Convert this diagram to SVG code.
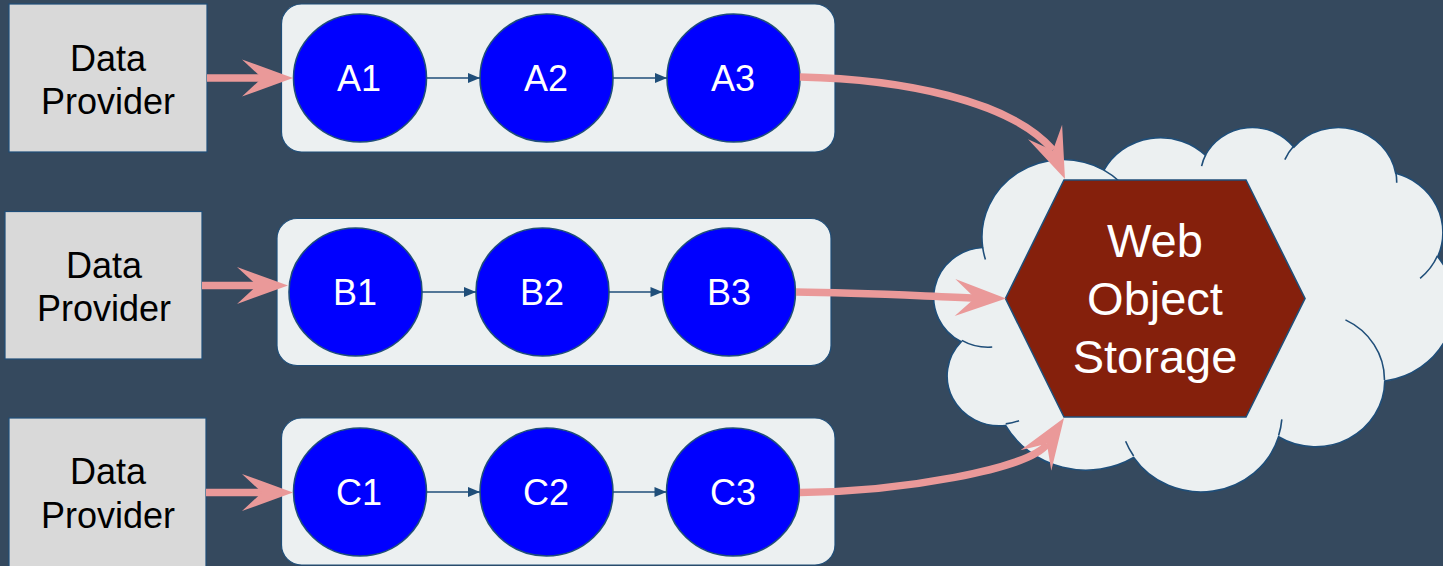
<svg xmlns="http://www.w3.org/2000/svg" xmlns:xlink="http://www.w3.org/1999/xlink" width="1443" height="566" viewBox="0 0 1443 566">
  <style>
    .provider { fill: #D9D9D9; stroke: #1F4E79; stroke-width: 1.2; }
    .provider-text { font-family: "Liberation Sans", Arial, sans-serif; font-size: 36px; fill: #000000; text-anchor: middle; }
    .lane { fill: #ECF0F1; stroke: #1F4E79; stroke-width: 1.2; }
    .step { fill: #0000FF; stroke: #1F4E79; stroke-width: 1.6; }
    .step-text { font-family: "Liberation Sans", Arial, sans-serif; font-size: 36px; fill: #FFFFFF; text-anchor: middle; }
    .cloud { fill: #ECF0F1; stroke: #1F4E79; stroke-width: 1.6; vector-effect: non-scaling-stroke; }
    .cloud-crease { fill: none; stroke: #1F4E79; stroke-width: 1.6; vector-effect: non-scaling-stroke; }
    .store { fill: #85200C; stroke: #1F4E79; stroke-width: 1.6; }
    .store-text { font-family: "Liberation Sans", Arial, sans-serif; font-size: 47px; fill: #FFFFFF; text-anchor: middle; }
    .flow { fill: none; stroke: #EA9999; stroke-width: 7.5; }
    .hop { fill: none; stroke: #1F4E79; stroke-width: 1.6; marker-end: url(#hop-head); }
  </style>
  <defs>
    <marker id="hop-head" markerUnits="userSpaceOnUse" markerWidth="14" markerHeight="12" viewBox="-13 -6 14 12" refX="0" refY="0" orient="auto" overflow="visible">
      <path d="M0,0 L-12,-5 L-12,5 Z" fill="#1F4E79"/>
    </marker>
    <path id="flow-head" d="M0,0 L-51,-18.5 L-31,0 L-51,18.5 Z" fill="#EA9999"/>
  </defs>

  <!-- background -->
  <rect x="0" y="0" width="1443" height="566" fill="#35495E"/>

  <!-- data providers -->
  <g id="provider-a">
    <rect class="provider" x="9" y="4" width="198" height="148"/>
    <text class="provider-text" x="108" y="70.5">Data</text>
    <text class="provider-text" x="108" y="113.5">Provider</text>
  </g>
  <g id="provider-b">
    <rect class="provider" x="5" y="211.5" width="197" height="147.5"/>
    <text class="provider-text" x="104" y="277.5">Data</text>
    <text class="provider-text" x="104" y="320.5">Provider</text>
  </g>
  <g id="provider-c">
    <rect class="provider" x="9" y="418" width="197" height="150"/>
    <text class="provider-text" x="108" y="484">Data</text>
    <text class="provider-text" x="108" y="527.5">Provider</text>
  </g>

  <!-- pipeline lanes -->
  <g id="lane-a"><rect class="lane" x="281.5" y="4" width="553.5" height="148" rx="20" ry="20"/></g>
  <g id="lane-b"><rect class="lane" x="277" y="218.5" width="554" height="147" rx="20" ry="20"/></g>
  <g id="lane-c"><rect class="lane" x="281.5" y="418" width="553.5" height="147" rx="20" ry="20"/></g>

  <!-- pipeline steps -->
  <g id="a1"><ellipse class="step" cx="360" cy="78" rx="66.5" ry="64"/><text class="step-text" x="359" y="91">A1</text></g>
  <g id="a2"><ellipse class="step" cx="546.5" cy="78" rx="66.5" ry="64"/><text class="step-text" x="546" y="91">A2</text></g>
  <g id="a3"><ellipse class="step" cx="733.5" cy="78" rx="66.5" ry="64"/><text class="step-text" x="733" y="91">A3</text></g>

  <g id="b1"><ellipse class="step" cx="355.5" cy="292" rx="66.5" ry="64"/><text class="step-text" x="355" y="305">B1</text></g>
  <g id="b2"><ellipse class="step" cx="542.5" cy="292" rx="66.5" ry="64"/><text class="step-text" x="542" y="305">B2</text></g>
  <g id="b3"><ellipse class="step" cx="729" cy="292" rx="66.5" ry="64"/><text class="step-text" x="729" y="305">B3</text></g>

  <g id="c1"><ellipse class="step" cx="360" cy="492" rx="66.5" ry="64"/><text class="step-text" x="359" y="505">C1</text></g>
  <g id="c2"><ellipse class="step" cx="546.5" cy="492" rx="66.5" ry="64"/><text class="step-text" x="546" y="505">C2</text></g>
  <g id="c3"><ellipse class="step" cx="733" cy="492" rx="66.5" ry="64"/><text class="step-text" x="733" y="505">C3</text></g>

  <!-- storage: cloud with hexagon -->
  <g id="storage">
    <g transform="translate(935.9 126.3) scale(0.012 0.008434)">
      <path class="cloud" d="M3900,14370 A6753,9190 0 0 1 14004.7,5202 A5333,7267 0 0 1 22455.4,3432.4 A4365,5945 0 0 1 29832.3,2480.7 A4857,6595 0 0 1 38317.9,5575.4 A5333,7273 0 0 1 41818.4,15459.5 A6775,9220 0 0 1 37403.9,30202.1 A5785,7867 0 0 1 28555.5,36812.3 A6752,9215 0 0 1 16480.9,39265.8 A7720,10543 0 0 1 5804.4,35469.3 A4360,5918 0 0 1 2112.7,25548 A4345,5945 0 0 1 3900,14370 Z"/>
      <path class="cloud-crease" d="M4693,26177 A4345,5945 0 0 1 2159.3,25379.6 M6928,34899 A4360,5918 0 0 1 5819.5,35280.5 M16478,39090 A6752,9215 0 0 1 15809.1,37348 M28827,34751 A6752,9215 0 0 1 28560.6,36659.8 M34129,22954 A5785,7867 0 0 1 37380.6,30089.8 M41798,15354 A5333,7273 0 0 1 40350,18029.7 M38324,5426 A4857,6595 0 0 1 38400.4,6690.2 M29078,3952 A4857,6595 0 0 1 29819.5,2340 M22141,4720 A4365,5945 0 0 1 22500.2,3330.1 M14000,5192 A6753,9190 0 0 1 15300.2,6540.7 M4127,15789 A6753,9190 0 0 1 3900.2,14369.6"/>
    </g>
    <polygon class="store" points="1064,180 1246,180 1305,298.5 1246,417 1064,417 1005.5,298.5"/>
    <text class="store-text" x="1155" y="257">Web</text>
    <text class="store-text" x="1155" y="315">Object</text>
    <text class="store-text" x="1155" y="373">Storage</text>
  </g>

  <!-- connectors -->
  <g id="connectors">
    <line class="hop" x1="426.5" y1="78" x2="480" y2="78"/>
    <line class="hop" x1="613" y1="78" x2="667" y2="78"/>
    <line class="hop" x1="422" y1="292" x2="476" y2="292"/>
    <line class="hop" x1="609" y1="292" x2="662.5" y2="292"/>
    <line class="hop" x1="426.5" y1="492" x2="480" y2="492"/>
    <line class="hop" x1="613" y1="492" x2="666.5" y2="492"/>

    <line class="flow" x1="207" y1="78" x2="263" y2="78"/>
    <use xlink:href="#flow-head" href="#flow-head" transform="translate(293 78)"/>
    <line class="flow" x1="202" y1="285.5" x2="258" y2="285.5"/>
    <use xlink:href="#flow-head" href="#flow-head" transform="translate(288 285.5)"/>
    <line class="flow" x1="206" y1="492.5" x2="263" y2="492.5"/>
    <use xlink:href="#flow-head" href="#flow-head" transform="translate(293 492.5)"/>

    <path class="flow" d="M800,77 C900,79 1010,100 1053,150"/>
    <use xlink:href="#flow-head" href="#flow-head" transform="translate(1065 179) rotate(67)"/>
    <path class="flow" d="M796,292 C860,292.5 920,296 976,298"/>
    <use xlink:href="#flow-head" href="#flow-head" transform="translate(1006 298.5) rotate(1)"/>
    <path class="flow" d="M800,492.5 C900,492 1030,469 1047,444"/>
    <use xlink:href="#flow-head" href="#flow-head" transform="translate(1064 418) rotate(-56.5)"/>
  </g>
</svg>
